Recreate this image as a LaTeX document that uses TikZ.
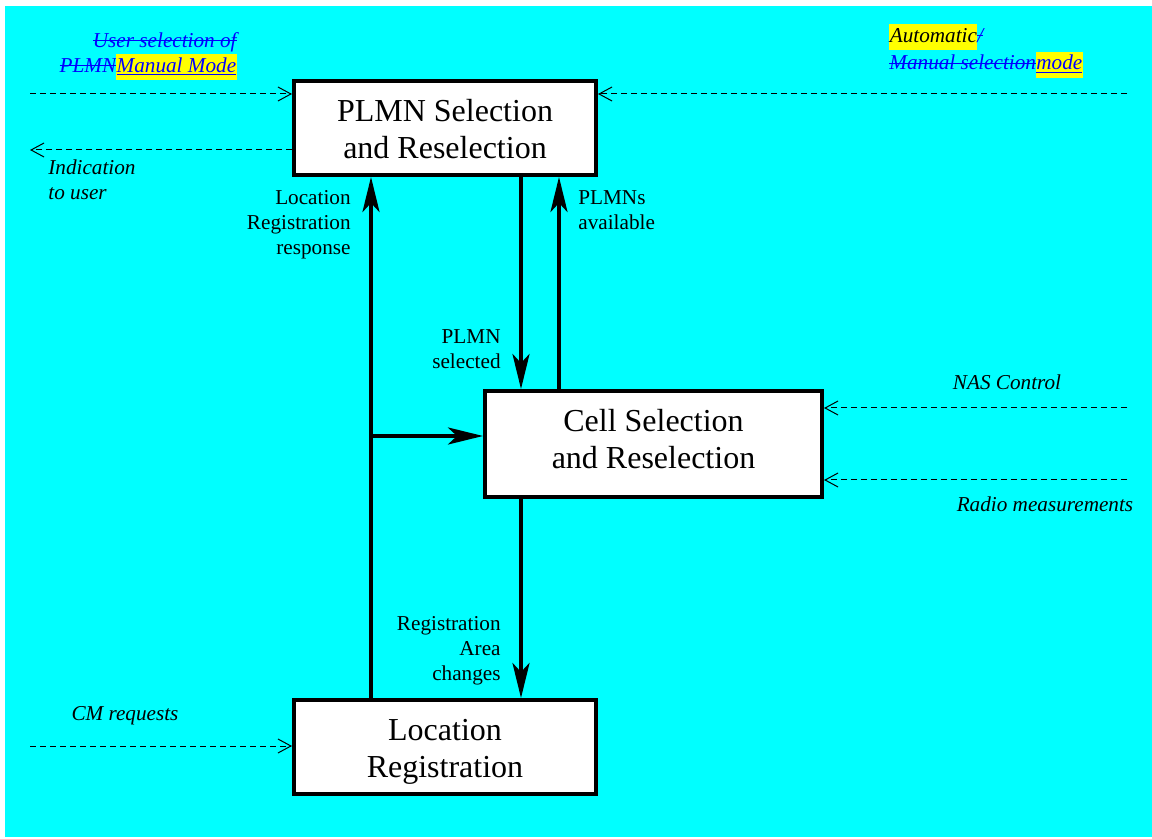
\documentclass[tikz,border=0pt]{standalone}
\usepackage{fontspec}
\setmainfont{Liberation Serif}
\usetikzlibrary{arrows.meta}
\definecolor{bgcyan}{RGB}{0,255,255}
\definecolor{hlyellow}{RGB}{255,255,0}
\definecolor{txtblue}{RGB}{0,0,255}
\newlength\mkw
\newcommand\strk[1]{\settowidth{\mkw}{#1}\rlap{#1}\rule[0.28em]{\mkw}{0.6pt}}
\newcommand\ulnk[1]{\settowidth{\mkw}{#1}\rlap{#1}\rule[-0.16em]{\mkw}{0.6pt}}
\newcommand\hlmark[1]{{\setlength{\fboxsep}{0.2pt}\colorbox{hlyellow}{\strut#1}}}
\begin{document}
\begin{tikzpicture}[x=0.5pt,y=-0.5pt,
  box/.style={draw, line width=2pt, fill=white, font=\fontsize{16}{18.5}\selectfont, align=center, inner sep=0pt, text depth=3pt},
  flow/.style={line width=2pt, -{Stealth[length=17.5pt,width=8.5pt,inset=4.5pt]}},
  ctl/.style={line width=0.5pt, dash pattern=on 3pt off 2pt, -{Straight Barb[length=6.5pt,width=7pt]}},
  lbl/.style={font=\fontsize{10.6}{12.5}\selectfont, inner sep=0pt},
  ilbl/.style={font=\fontsize{10.6}{12.5}\selectfont\itshape, inner sep=0pt}]
\useasboundingbox (0,0) rectangle (1152,839);
\fill[bgcyan] (5,6) rectangle (1152,837);

% boxes
\node[box, minimum width=151pt, minimum height=47pt, text height=33.5pt] (plmn) at (445,128) {PLMN Selection\\and Reselection};
\node[box, minimum width=168.5pt, minimum height=53pt, text height=27.5pt] (cell) at (653.5,444) {Cell Selection\\and Reselection};
\node[box, minimum width=151pt, minimum height=47pt, text height=33.5pt] (loc) at (445,747) {Location\\Registration};

% helper coordinates
\coordinate (xL) at (371,0);
\coordinate (xA) at (521,0);
\coordinate (xB) at (559,0);
\coordinate (jn) at (371,436);
\coordinate (inUser) at (30,94);
\coordinate (outUser) at (30,150);
\coordinate (inAuto) at (1127,94);
\coordinate (inNas) at (1127,408);
\coordinate (inRadio) at (1127,480);
\coordinate (inCm) at (30,746);

% solid flows
\draw[flow] (loc.north -| xL) -- (plmn.south -| xL);
\draw[flow] (jn) -- (cell.west |- jn);
\draw[flow] (plmn.south -| xA) -- (cell.north -| xA);
\draw[flow] (cell.north -| xB) -- (plmn.south -| xB);
\draw[flow] (cell.south -| xA) -- (loc.north -| xA);

% dashed control lines
\draw[ctl] (inUser) -- (plmn.west |- inUser);
\draw[ctl] (plmn.west |- outUser) -- (outUser);
\draw[ctl] (inAuto) -- (plmn.east |- inAuto);
\draw[ctl] (inNas) -- (cell.east |- inNas);
\draw[ctl] (inRadio) -- (cell.east |- inRadio);
\draw[ctl] (inCm) -- (loc.west |- inCm);

% labels
\node[lbl, align=right, anchor=east] (lLoc) at (351,225) {Location\\Registration\\response};
\node[lbl, align=left, anchor=west] (lAvail) at (578,210) {PLMNs\\available};
\node[lbl, align=right, anchor=east] (lSel) at (501,349) {PLMN\\selected};
\node[lbl, align=right, anchor=east] (lRa) at (501,651) {Registration\\Area\\changes};
\node[ilbl, align=left, anchor=west] (lInd) at (48,180) {Indication\\to user};
\node[ilbl] (lNas) at (1007,382) {NAS Control};
\node[ilbl] (lRad) at (1045,504) {Radio measurements};
\node[ilbl] (lCm) at (125,716) {CM requests};
\node[ilbl, align=right, anchor=east, text=txtblue] (lUsr) at (237,56) {\strk{User selection of}\\\strk{PLMN}\hlmark{\ulnk{Manual Mode}}};
\node[ilbl, align=left, anchor=west] (lAut) at (889,51) {\hlmark{Automatic}\textcolor{txtblue}{\strk{/}}\\\textcolor{txtblue}{\strk{Manual selection}\hlmark{\ulnk{mode}}}};
\end{tikzpicture}
\end{document}
